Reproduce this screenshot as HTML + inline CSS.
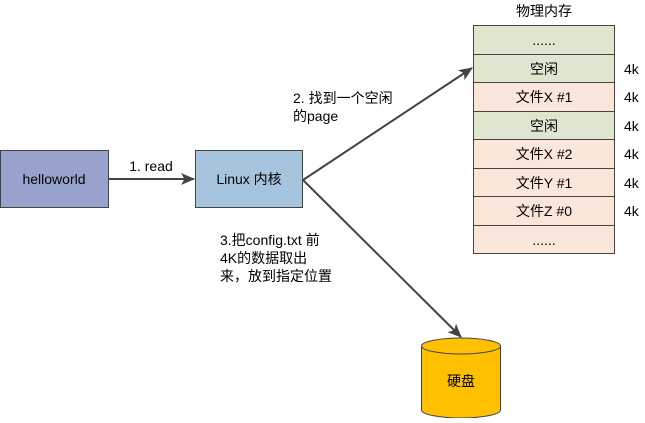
<!DOCTYPE html>
<html><head><meta charset="utf-8"><style>
body{margin:0;background:#fff;}
svg text{font-family:"Liberation Sans","Noto Sans CJK SC",sans-serif;font-size:14px;fill:#000;}
</style></head><body>
<svg width="645" height="418" viewBox="0 0 645 418" xmlns="http://www.w3.org/2000/svg">
<defs><marker id="a" markerWidth="14" markerHeight="12" refX="13" refY="6" orient="auto" markerUnits="userSpaceOnUse"><path d="M0,0 L14,6 L0,12 L3.5,6z" fill="#444"/></marker></defs>
<rect x="0.5" y="150.5" width="108" height="57" fill="#97a3cd" stroke="#444"/>
<text x="54" y="184" text-anchor="middle">helloworld</text>
<rect x="195.5" y="150.5" width="107" height="57" fill="#a7c4de" stroke="#444"/>
<text x="249" y="184" text-anchor="middle">Linux 内核</text>
<line x1="109" y1="179" x2="194" y2="179" stroke="#444" stroke-width="2" marker-end="url(#a)"/>
<text x="151" y="171" text-anchor="middle">1. read</text>
<line x1="303" y1="180" x2="472" y2="68" stroke="#444" stroke-width="2" marker-end="url(#a)"/>
<line x1="303" y1="180" x2="461" y2="337" stroke="#444" stroke-width="2" marker-end="url(#a)"/>
<text x="293" y="103">2. 找到一个空闲</text>
<text x="293" y="121">的page</text>
<text x="220" y="245">3.把config.txt 前</text>
<text x="220" y="263">4K的数据取出</text>
<text x="220" y="281">来，放到指定位置</text>
<text x="544" y="16" text-anchor="middle">物理内存</text>
<g stroke="#444">
<rect x="473.5" y="25.5" width="141" height="29" fill="#dfe6d0"/>
<rect x="473.5" y="54.5" width="141" height="28" fill="#dfe6d0"/>
<rect x="473.5" y="82.5" width="141" height="29" fill="#fbe6da"/>
<rect x="473.5" y="111.5" width="141" height="28" fill="#dfe6d0"/>
<rect x="473.5" y="139.5" width="141" height="29" fill="#fbe6da"/>
<rect x="473.5" y="168.5" width="141" height="28" fill="#fbe6da"/>
<rect x="473.5" y="196.5" width="141" height="29" fill="#fbe6da"/>
<rect x="473.5" y="225.5" width="141" height="28" fill="#fbe6da"/>
</g>
<g text-anchor="middle">
<text x="544" y="45">......</text>
<text x="544" y="74">空闲</text>
<text x="544" y="102">文件X  #1</text>
<text x="544" y="131">空闲</text>
<text x="544" y="159">文件X  #2</text>
<text x="544" y="188">文件Y #1</text>
<text x="544" y="216">文件Z #0</text>
<text x="544" y="245">......</text>
</g>
<g>
<text x="624" y="74">4k</text><text x="624" y="102">4k</text><text x="624" y="131">4k</text>
<text x="624" y="159">4k</text><text x="624" y="188">4k</text><text x="624" y="216">4k</text>
</g>
<path d="M421.5,346 L421.5,410 A39.5,8 0 0 0 500.5,410 L500.5,346" fill="#ffc000" stroke="#444"/>
<ellipse cx="461" cy="346" rx="39.5" ry="8" fill="#ffc000" stroke="#444"/>
<text x="461" y="386" text-anchor="middle">硬盘</text>
</svg>
</body></html>
